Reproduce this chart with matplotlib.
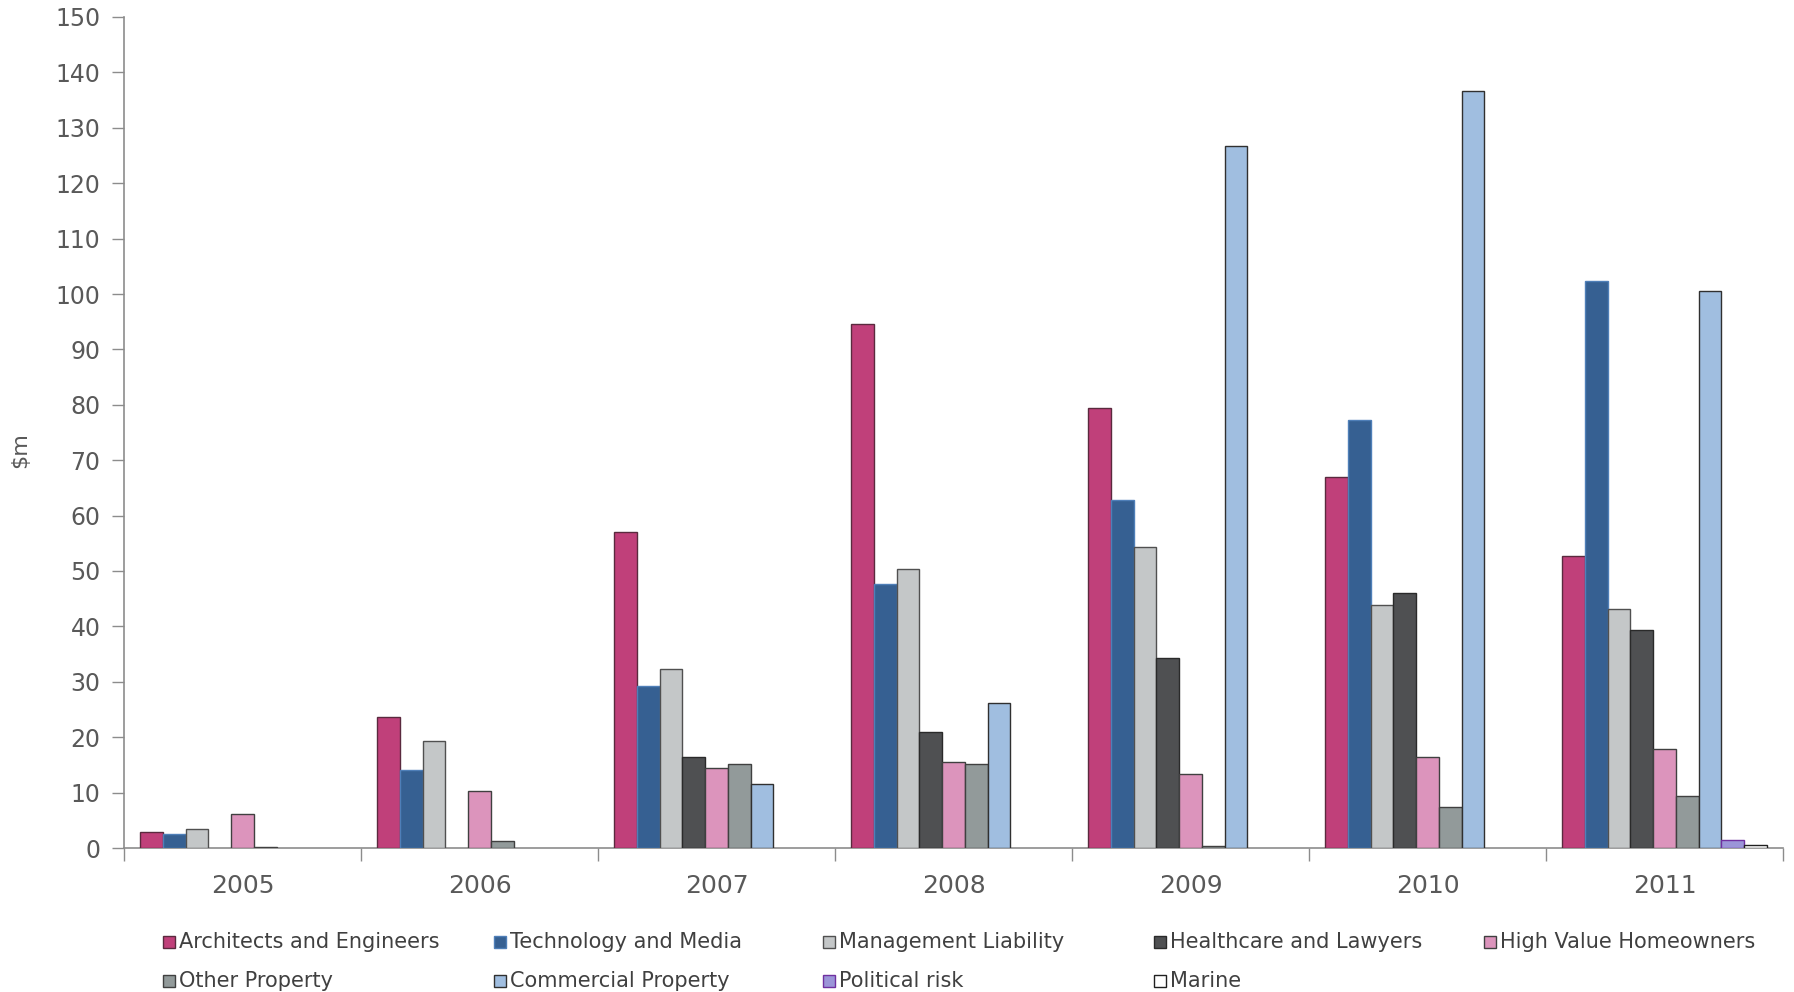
import matplotlib
matplotlib.use("Agg")
import matplotlib.pyplot as plt
from matplotlib.patches import Rectangle
import numpy as np

years = ["2005", "2006", "2007", "2008", "2009", "2010", "2011"]
series_names = ["Architects and Engineers", "Technology and Media", "Management Liability",
                "Healthcare and Lawyers", "High Value Homeowners", "Other Property",
                "Commercial Property", "Political risk", "Marine"]

architects = [2.8, 23.7, 57.0, 94.6, 79.5, 66.9, 52.7]
technology = [2.6, 14.1, 29.3, 47.7, 62.8, 77.3, 102.3]
management = [3.4, 19.4, 32.4, 50.4, 54.3, 43.8, 43.2]
healthcare = [0.0, 0.0, 16.5, 20.9, 34.3, 46.1, 39.3]
homeowners = [6.2, 10.2, 14.5, 15.5, 13.4, 16.5, 17.8]
other_property = [0.15, 1.2, 15.1, 15.1, 0.3, 7.4, 9.3]
commercial = [0.0, 0.0, 11.6, 26.2, 126.7, 136.6, 100.6]
political = [0.0, 0.0, 0.0, 0.0, 0.0, 0.0, 1.4]
marine = [0.0, 0.0, 0.0, 0.0, 0.0, 0.0, 0.6]

all_series = [architects, technology, management, healthcare, homeowners,
              other_property, commercial, political, marine]
face_colors = ["#C0407A", "#366092", "#C4C7C8", "#4F5052", "#DC94BC",
               "#929A9A", "#A0BEE0", "#9B95D8", "#FFFFFF"]
edge_colors = ["#5A2A3E", "#4F7FB8", "#505050", "#2A2A2A", "#404040",
               "#404040", "#303030", "#7030A0", "#202020"]

W, H = 1794, 992
fig = plt.figure(figsize=(W / 100, H / 100), dpi=100)
ax = fig.add_axes([124 / W, 1 - 848 / H, (1783 - 124) / W, (848 - 17) / H])

x = np.arange(len(years))
bw = 0.0957
n = len(all_series)
for i, (vals, fc, ec) in enumerate(zip(all_series, face_colors, edge_colors)):
    offs = (i - (n - 1) / 2) * bw
    v = np.array(vals, dtype=float)
    v[v == 0] = np.nan
    ax.bar(x + offs, v, width=bw, color=fc, edgecolor=ec, linewidth=1.0, zorder=3)

ax.set_xlim(-0.5, len(years) - 0.5)
ax.set_ylim(0, 150)
ax.set_yticks(np.arange(0, 151, 10))

ax.set_xticks(np.arange(-0.5, len(years), 1.0))
ax.set_xticklabels([])
ax.set_xticks(x, minor=True)
ax.set_xticklabels(years, minor=True)
ax.tick_params(axis="x", which="major", length=9, direction="out", color="#8c8c8c", width=1)
ax.tick_params(axis="x", which="minor", length=0, pad=19, labelsize=18, labelcolor="#595959")
ax.tick_params(axis="y", length=9, direction="out", color="#8c8c8c", width=1,
               labelsize=17, labelcolor="#595959", pad=8)

for s in ["top", "right"]:
    ax.spines[s].set_visible(False)
for s in ["left", "bottom"]:
    ax.spines[s].set_color("#8c8c8c")
    ax.spines[s].set_linewidth(1.2)

fig.text(20 / W, 1 - 450 / H, "$m", rotation=90, ha="center", va="center",
         fontsize=16, color="#595959")

# legend (manual, evenly spaced like the original)
col_x = [169, 500, 829, 1160, 1490]
row_y = [942, 981]
sq = 12
for i, name in enumerate(series_names):
    r, c = divmod(i, 5)
    cx, cy = col_x[c], row_y[r]
    fig.patches.append(Rectangle(((cx - sq / 2) / W, 1 - (cy + sq / 2) / H), sq / W, sq / H,
                                 transform=fig.transFigure, facecolor=face_colors[i],
                                 edgecolor=edge_colors[i], linewidth=1.0))
    fig.text((cx + 10) / W, 1 - cy / H, name, ha="left", va="center",
             fontsize=15, color="#404040")

fig.savefig("out.png", dpi=100)
